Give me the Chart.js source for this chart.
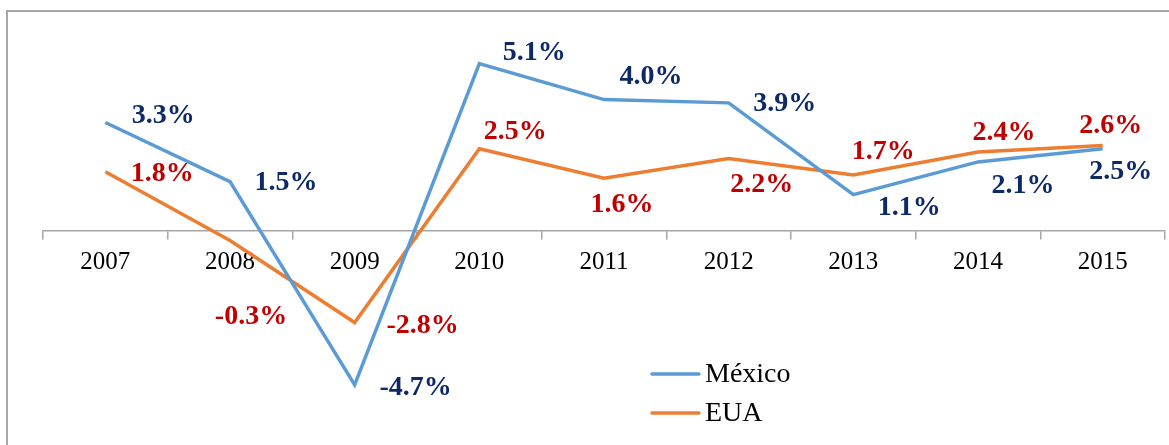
<!DOCTYPE html>
<html>
<head>
<meta charset="utf-8">
<script src="https://cdn.jsdelivr.net/npm/chart.js@4/dist/chart.umd.min.js"></script>
<style>
  html, body { margin: 0; padding: 0; background: #fff; overflow: hidden; }
  #wrap { position: relative; width: 1169px; height: 445px; }
  #frame { position: absolute; left: 6px; top: 10px; right: -2px; bottom: -2px;
           border-left: 2px solid #A6A6A6; border-top: 2px solid #A6A6A6; pointer-events: none; }
  canvas { position: absolute; left: 0; top: 0; }
</style>
</head>
<body>
<div id="wrap">
  <canvas id="growthChart" width="1169" height="445"></canvas>
  <div id="frame"></div>
</div>
<script>
// --- data ---
var years = ['2007', '2008', '2009', '2010', '2011', '2012', '2013', '2014', '2015'];
var mexico = [3.3, 1.5, -4.7, 5.1, 4.0, 3.9, 1.1, 2.1, 2.5];
var eua = [1.8, -0.3, -2.8, 2.5, 1.6, 2.2, 1.7, 2.4, 2.6];

// where each value label sits relative to its point (px)
var mexicoLabelOffsets = [[58, -7], [56, 1], [61, 3], [55, -11], [47, -23], [56, 1], [56, 13], [45, 24], [18, 23]];
var euaLabelOffsets = [[57, 2], [21, 76], [68, 3], [36, -17], [18, 26], [33, 26], [30, -23], [26, -19], [8, -20]];

var serif = '"Liberation Serif", "Times New Roman", serif';

// draws "3.3%" style labels next to each point
var valueLabels = {
    id: 'valueLabels',
    afterDatasetsDraw: function (chart) {
        var ctx = chart.ctx;
        ctx.save();
        ctx.font = 'bold 28px ' + serif;
        ctx.textAlign = 'center';
        ctx.textBaseline = 'middle';
        chart.data.datasets.forEach(function (ds, i) {
            var meta = chart.getDatasetMeta(i);
            ctx.fillStyle = ds.labelColor;
            meta.data.forEach(function (pt, j) {
                var off = ds.labelOffsets[j];
                ctx.fillText(ds.data[j].toFixed(1) + '%', pt.x + off[0], pt.y + off[1]);
            });
        });
        ctx.restore();
    }
};

// legend drawn inside the plot, bottom right like the original
var insideLegend = {
    id: 'insideLegend',
    afterDraw: function (chart) {
        var ctx = chart.ctx;
        var x = 651, y = 374, gap = 39;
        ctx.save();
        ctx.font = '28px ' + serif;
        ctx.textBaseline = 'middle';
        ctx.textAlign = 'left';
        chart.data.datasets.forEach(function (ds, i) {
            var yy = y + i * gap;
            ctx.strokeStyle = ds.borderColor;
            ctx.lineWidth = 3.5;
            ctx.lineCap = 'round';
            ctx.beginPath();
            ctx.moveTo(x + 1, yy);
            ctx.lineTo(x + 48, yy);
            ctx.stroke();
            ctx.fillStyle = '#000';
            ctx.fillText(ds.label, x + 54, yy + 1);
        });
        ctx.restore();
    }
};

var ctxGrowth = document.getElementById('growthChart');
new Chart(ctxGrowth, {
    type: 'line',
    data: {
        labels: years,
        datasets: [{
            label: 'México',
            data: mexico,
            borderColor: '#5B9BD5',
            borderWidth: 3.5,
            pointRadius: 0,
            tension: 0,
            labelColor: '#0D2A66',
            labelOffsets: mexicoLabelOffsets
        }, {
            label: 'EUA',
            data: eua,
            borderColor: '#ED7D31',
            borderWidth: 3.5,
            pointRadius: 0,
            tension: 0,
            labelColor: '#C00000',
            labelOffsets: euaLabelOffsets
        }]
    },
    options: {
        responsive: false,
        animation: false,
        layout: { padding: { left: 43, right: 4, top: 34, bottom: 17.5 } },
        scales: {
            x: {
                position: { y: 0 },
                offset: true,
                afterFit: function (scale) { scale.height = 0; },
                grid: { offset: true, drawOnChartArea: false, color: '#A6A6A6', lineWidth: 1.5, tickLength: 8 },
                border: { display: true, color: '#A6A6A6', width: 1.5 },
                ticks: { color: '#000', padding: 9, maxRotation: 0, font: { family: serif, size: 25 } }
            },
            y: { display: false, min: -6, max: 6 }
        },
        plugins: {
            legend: { display: false },
            tooltip: { enabled: false }
        }
    },
    plugins: [valueLabels, insideLegend]
});
</script>
</body>
</html>
